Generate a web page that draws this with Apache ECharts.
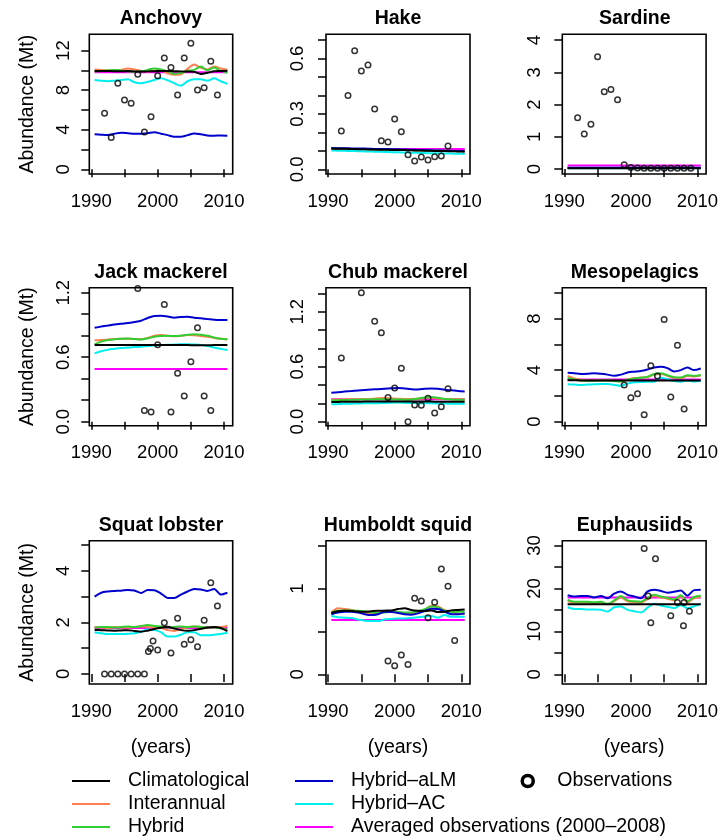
<!DOCTYPE html>
<html>
<head>
<meta charset="utf-8">
<script src="https://cdn.jsdelivr.net/npm/echarts@6/dist/echarts.min.js"></script>
<style>
  html, body { margin: 0; padding: 0; background: #ffffff; }
  #chart { width: 721px; height: 840px; }
</style>
</head>
<body>
<div id="chart"></div>
<script>
// ---- Model time axis (mid-year values) ----
const modelYears = [1990.5, 1991.5, 1992.5, 1993.5, 1994.5, 1995.5, 1996.5, 1997.5, 1998.5, 1999.5,
                    2000.5, 2001.5, 2002.5, 2003.5, 2004.5, 2005.5, 2006.5, 2007.5, 2008.5, 2009.5, 2010.5];

// ---- X tick positions and labels (shared by all panels) ----
const xTickYears = [1990, 1995, 2000, 2005, 2010];
const xLabelYears = [1990, 2000, 2010];

// ---- Anchovy (Mt) ----
const anchovyClim   = [9.94, 9.94, 9.93, 9.92, 9.92, 9.93, 9.90, 9.88, 9.90, 9.92, 9.94, 9.93, 9.92, 9.90, 9.88, 9.85, 9.64, 9.75, 9.92, 9.94, 9.96];
const anchovyInter  = [10.10, 10.05, 9.98, 10.00, 10.05, 10.20, 10.10, 9.95, 9.90, 9.95, 10.00, 9.70, 9.55, 9.60, 10.15, 10.60, 10.25, 10.10, 10.40, 10.20, 10.05];
const anchovyHybrid = [9.88, 9.95, 10.00, 10.05, 9.98, 9.90, 9.85, 9.90, 10.05, 10.20, 10.10, 9.90, 9.64, 9.75, 9.95, 10.05, 10.40, 10.00, 10.30, 9.95, 9.77];
const anchovyALM    = [3.54, 3.50, 3.47, 3.60, 3.70, 3.65, 3.58, 3.60, 3.65, 3.74, 3.60, 3.45, 3.30, 3.30, 3.45, 3.62, 3.55, 3.42, 3.40, 3.42, 3.40];
const anchovyAC     = [9.03, 8.95, 8.90, 8.95, 9.03, 9.10, 8.80, 8.70, 8.85, 9.03, 9.20, 9.00, 8.70, 8.45, 8.90, 9.10, 9.10, 8.95, 9.20, 8.90, 8.63];
const anchovyObsYears = [1992, 1993, 1994, 1995, 1996, 1997, 1998, 1999, 2000, 2001, 2002, 2003, 2004, 2005, 2006, 2007, 2008, 2009];
const anchovyObs      = [5.66, 3.20, 8.70, 7.00, 6.67, 9.60, 3.78, 5.30, 9.46, 11.25, 10.30, 7.50, 11.25, 12.74, 8.02, 8.25, 10.92, 7.50];

// ---- Hake (Mt) ----
const hakeClim   = [0.112, 0.111, 0.111, 0.110, 0.109, 0.108, 0.107, 0.106, 0.106, 0.105, 0.105, 0.104, 0.103, 0.102, 0.101, 0.100, 0.099, 0.099, 0.098, 0.097, 0.096];
const hakeInter  = [0.113, 0.112, 0.112, 0.111, 0.110, 0.110, 0.109, 0.108, 0.108, 0.107, 0.106, 0.105, 0.104, 0.103, 0.103, 0.102, 0.101, 0.100, 0.100, 0.099, 0.098];
const hakeHybrid = [0.112, 0.112, 0.111, 0.110, 0.110, 0.109, 0.108, 0.108, 0.107, 0.106, 0.105, 0.104, 0.104, 0.103, 0.102, 0.101, 0.100, 0.100, 0.099, 0.098, 0.097];
const hakeALM    = [0.115, 0.114, 0.114, 0.113, 0.112, 0.112, 0.111, 0.110, 0.110, 0.109, 0.108, 0.107, 0.106, 0.105, 0.104, 0.103, 0.102, 0.101, 0.100, 0.099, 0.098];
const hakeAC     = [0.102, 0.101, 0.100, 0.099, 0.098, 0.097, 0.096, 0.095, 0.094, 0.093, 0.092, 0.091, 0.090, 0.089, 0.088, 0.087, 0.087, 0.086, 0.085, 0.084, 0.083];
const hakeObsYears = [1992, 1993, 1994, 1995, 1996, 1997, 1998, 1999, 2000, 2001, 2002, 2003, 2004, 2005, 2006, 2007, 2008];
const hakeObs      = [0.207, 0.400, 0.642, 0.532, 0.565, 0.327, 0.154, 0.148, 0.273, 0.204, 0.079, 0.045, 0.066, 0.050, 0.068, 0.072, 0.126];

// ---- Sardine (Mt) ----
const sardineClim   = [0.02, 0.02, 0.02, 0.02, 0.02, 0.02, 0.02, 0.02, 0.02, 0.02, 0.02, 0.02, 0.02, 0.02, 0.02, 0.02, 0.02, 0.02, 0.02, 0.02, 0.02];
const sardineInter  = [0.03, 0.03, 0.03, 0.03, 0.03, 0.03, 0.03, 0.03, 0.03, 0.03, 0.03, 0.03, 0.03, 0.03, 0.03, 0.03, 0.03, 0.03, 0.03, 0.03, 0.03];
const sardineHybrid = [0.03, 0.03, 0.03, 0.03, 0.03, 0.03, 0.03, 0.03, 0.03, 0.03, 0.03, 0.03, 0.03, 0.03, 0.03, 0.03, 0.03, 0.03, 0.03, 0.03, 0.03];
const sardineALM    = [0.04, 0.04, 0.04, 0.04, 0.04, 0.04, 0.04, 0.04, 0.04, 0.04, 0.04, 0.04, 0.04, 0.04, 0.04, 0.04, 0.04, 0.04, 0.04, 0.04, 0.04];
const sardineAC     = [0.02, 0.02, 0.02, 0.02, 0.02, 0.02, 0.02, 0.02, 0.02, 0.02, 0.02, 0.02, 0.02, 0.02, 0.02, 0.02, 0.02, 0.02, 0.02, 0.02, 0.02];
const sardineObsYears = [1992, 1993, 1994, 1995, 1996, 1997, 1998, 1999, 2000, 2001, 2002, 2003, 2004, 2005, 2006, 2007, 2008, 2009];
const sardineObs      = [1.59, 1.085, 1.385, 3.48, 2.40, 2.47, 2.15, 0.134, 0.05, 0.03, 0.02, 0.02, 0.02, 0.02, 0.02, 0.02, 0.02, 0.02];

// ---- Jack mackerel (Mt) ----
const jackClim   = [0.713, 0.714, 0.714, 0.714, 0.715, 0.715, 0.715, 0.715, 0.714, 0.714, 0.714, 0.713, 0.713, 0.713, 0.713, 0.712, 0.712, 0.712, 0.713, 0.713, 0.713];
const jackInter  = [0.757, 0.760, 0.765, 0.770, 0.772, 0.772, 0.770, 0.768, 0.780, 0.800, 0.806, 0.800, 0.795, 0.800, 0.806, 0.805, 0.798, 0.790, 0.780, 0.772, 0.766];
const jackHybrid = [0.720, 0.745, 0.760, 0.768, 0.772, 0.774, 0.770, 0.766, 0.775, 0.790, 0.797, 0.800, 0.797, 0.800, 0.810, 0.815, 0.810, 0.800, 0.785, 0.772, 0.768];
const jackALM    = [0.874, 0.885, 0.895, 0.905, 0.912, 0.918, 0.928, 0.940, 0.965, 0.984, 0.986, 0.980, 0.968, 0.975, 0.977, 0.968, 0.962, 0.955, 0.948, 0.946, 0.946];
const jackAC     = [0.636, 0.655, 0.670, 0.678, 0.685, 0.690, 0.695, 0.698, 0.705, 0.710, 0.713, 0.716, 0.718, 0.720, 0.720, 0.718, 0.715, 0.705, 0.690, 0.678, 0.667];
const jackObsYears = [1997, 1998, 1999, 2000, 2001, 2002, 2003, 2004, 2005, 2006, 2007, 2008];
const jackObs      = [1.24, 0.105, 0.09, 0.716, 1.09, 0.09, 0.45, 0.239, 0.558, 0.874, 0.239, 0.105];

// ---- Chub mackerel (Mt) ----
const chubClim   = [0.215, 0.216, 0.217, 0.218, 0.218, 0.219, 0.219, 0.220, 0.220, 0.220, 0.220, 0.220, 0.220, 0.219, 0.219, 0.219, 0.218, 0.218, 0.218, 0.218, 0.218];
const chubInter  = [0.240, 0.242, 0.244, 0.245, 0.246, 0.247, 0.248, 0.255, 0.260, 0.255, 0.250, 0.248, 0.247, 0.250, 0.255, 0.260, 0.252, 0.248, 0.246, 0.244, 0.243];
const chubHybrid = [0.232, 0.235, 0.237, 0.238, 0.240, 0.242, 0.243, 0.245, 0.244, 0.243, 0.242, 0.240, 0.242, 0.252, 0.265, 0.270, 0.260, 0.248, 0.243, 0.240, 0.238];
const chubALM    = [0.316, 0.322, 0.328, 0.334, 0.340, 0.345, 0.350, 0.355, 0.360, 0.364, 0.368, 0.362, 0.355, 0.352, 0.358, 0.362, 0.358, 0.348, 0.342, 0.335, 0.330];
const chubAC     = [0.190, 0.192, 0.195, 0.196, 0.198, 0.200, 0.200, 0.202, 0.205, 0.207, 0.208, 0.206, 0.204, 0.202, 0.200, 0.200, 0.198, 0.197, 0.196, 0.195, 0.195];
const chubObsYears = [1992, 1995, 1997, 1998, 1999, 2000, 2001, 2002, 2003, 2004, 2005, 2006, 2007, 2008];
const chubObs      = [0.695, 1.407, 1.095, 0.971, 0.265, 0.367, 0.582, 0.0, 0.182, 0.178, 0.255, 0.095, 0.164, 0.36];

// ---- Mesopelagics (Mt) ----
const mesoClim   = [3.22, 3.21, 3.20, 3.20, 3.20, 3.20, 3.20, 3.20, 3.20, 3.20, 3.20, 3.20, 3.20, 3.20, 3.20, 3.20, 3.20, 3.20, 3.20, 3.20, 3.20];
const mesoInter  = [3.54, 3.35, 3.25, 3.22, 3.20, 3.22, 3.22, 3.18, 3.15, 3.28, 3.38, 3.42, 3.45, 3.65, 3.70, 3.55, 3.40, 3.38, 3.55, 3.50, 3.58];
const mesoHybrid = [3.40, 3.28, 3.20, 3.18, 3.18, 3.20, 3.20, 3.15, 3.12, 3.25, 3.36, 3.40, 3.48, 3.70, 3.75, 3.60, 3.45, 3.42, 3.60, 3.55, 3.62];
const mesoALM    = [3.80, 3.75, 3.70, 3.72, 3.76, 3.72, 3.65, 3.56, 3.65, 3.82, 3.88, 3.93, 4.05, 4.20, 4.26, 4.15, 3.90, 4.00, 4.20, 4.00, 4.13];
const mesoAC     = [2.90, 2.88, 2.85, 2.88, 2.90, 2.92, 2.92, 2.85, 2.79, 2.95, 3.05, 3.08, 3.10, 3.10, 3.40, 3.30, 3.15, 3.10, 3.20, 3.12, 3.15];
const mesoObsYears = [1999, 2000, 2001, 2002, 2003, 2004, 2005, 2006, 2007, 2008];
const mesoObs      = [2.84, 1.86, 2.17, 0.54, 4.34, 3.54, 7.93, 1.91, 5.92, 0.98];

// ---- Squat lobster (Mt) ----
const squatClim   = [1.71, 1.70, 1.69, 1.68, 1.69, 1.70, 1.67, 1.64, 1.68, 1.74, 1.79, 1.83, 1.76, 1.70, 1.68, 1.70, 1.75, 1.80, 1.82, 1.78, 1.66];
const squatInter  = [1.82, 1.80, 1.78, 1.82, 1.80, 1.80, 1.82, 1.84, 1.82, 1.80, 1.78, 1.70, 1.67, 1.74, 1.80, 1.84, 1.82, 1.80, 1.80, 1.82, 1.86];
const squatHybrid = [1.80, 1.82, 1.82, 1.80, 1.82, 1.84, 1.82, 1.86, 1.90, 1.86, 1.84, 1.80, 1.82, 1.84, 1.82, 1.84, 1.82, 1.80, 1.80, 1.77, 1.72];
const squatALM    = [3.00, 3.15, 3.20, 3.22, 3.23, 3.26, 3.24, 3.14, 3.26, 3.25, 3.12, 2.95, 2.95, 3.08, 3.20, 3.30, 3.28, 3.22, 3.30, 3.08, 3.15];
const squatAC     = [1.62, 1.58, 1.55, 1.55, 1.55, 1.56, 1.58, 1.64, 1.72, 1.70, 1.62, 1.45, 1.45, 1.52, 1.62, 1.62, 1.50, 1.50, 1.52, 1.55, 1.60];
const squatObsYears = [1992, 1993, 1994, 1995, 1996, 1997, 1998, 1998.6, 1998.9, 1999.3, 2000, 2001, 2002, 2003, 2004, 2005, 2006, 2007, 2008, 2009];
const squatObs      = [0, 0, 0, 0, 0, 0, 0, 0.87, 0.99, 1.28, 0.93, 1.99, 0.81, 2.16, 1.15, 1.33, 1.06, 2.08, 3.54, 2.64];

// ---- Humboldt squid (Mt) ----
const squidClim   = [0.715, 0.735, 0.742, 0.738, 0.732, 0.730, 0.735, 0.740, 0.742, 0.745, 0.760, 0.770, 0.750, 0.740, 0.735, 0.745, 0.725, 0.730, 0.745, 0.750, 0.755];
const squidInter  = [0.720, 0.770, 0.760, 0.750, 0.730, 0.720, 0.700, 0.710, 0.725, 0.725, 0.720, 0.715, 0.710, 0.720, 0.750, 0.800, 0.790, 0.750, 0.720, 0.710, 0.700];
const squidHybrid = [0.720, 0.740, 0.745, 0.745, 0.740, 0.735, 0.720, 0.715, 0.720, 0.735, 0.725, 0.720, 0.720, 0.735, 0.760, 0.790, 0.780, 0.740, 0.720, 0.730, 0.730];
const squidALM    = [0.700, 0.720, 0.730, 0.730, 0.720, 0.700, 0.690, 0.700, 0.730, 0.725, 0.715, 0.700, 0.695, 0.710, 0.740, 0.765, 0.760, 0.730, 0.700, 0.700, 0.710];
const squidAC     = [0.680, 0.665, 0.660, 0.655, 0.640, 0.625, 0.620, 0.620, 0.640, 0.645, 0.650, 0.650, 0.655, 0.665, 0.675, 0.680, 0.660, 0.690, 0.670, 0.670, 0.670];
const squidObsYears = [1999, 2000, 2001, 2002, 2003, 2004, 2005, 2006, 2007, 2008, 2009];
const squidObs      = [0.155, 0.10, 0.225, 0.113, 0.886, 0.855, 0.66, 0.84, 1.228, 1.026, 0.393];

// ---- Euphausiids (Mt) ----
const euphClim   = [16.3, 16.3, 16.3, 16.3, 16.3, 16.3, 16.3, 16.3, 16.3, 16.3, 16.3, 16.3, 16.3, 16.3, 16.3, 16.3, 16.3, 16.3, 16.3, 16.3, 16.3];
const euphInter  = [17.0, 16.7, 16.7, 16.7, 16.6, 16.7, 16.3, 17.0, 17.9, 17.0, 16.8, 16.7, 17.5, 18.2, 17.9, 17.6, 17.2, 18.1, 16.8, 17.7, 18.0];
const euphHybrid = [17.3, 16.9, 16.9, 16.9, 16.8, 16.9, 16.4, 17.2, 18.2, 17.2, 17.0, 16.9, 17.8, 18.5, 18.1, 17.8, 17.4, 18.4, 17.0, 18.0, 18.3];
const euphALM    = [18.4, 18.1, 18.2, 18.2, 17.9, 18.2, 17.7, 18.8, 19.3, 18.5, 18.1, 17.7, 19.3, 19.7, 19.4, 19.0, 19.2, 19.5, 18.3, 19.6, 19.7];
const euphAC     = [15.6, 15.2, 15.2, 15.1, 15.1, 15.0, 14.6, 15.6, 15.8, 15.0, 14.7, 14.4, 15.5, 16.4, 16.0, 15.7, 15.4, 16.1, 15.4, 15.8, 16.4];
const euphObsYears = [2002, 2002.6, 2003, 2003.7, 2006, 2007, 2008, 2007.9, 2008.8];
const euphObs      = [29.3, 18.2, 12.0, 26.9, 13.6, 16.7, 16.7, 11.3, 14.7];

// ---- Averaged observations 2000-2008, in panel order ----
const avgObs = [9.80, 0.110, 0.11, 0.49, 0.245, 3.28, 1.78, 0.634, 17.9];

// ---- Y tick values and labelled ticks, per panel ----
const anchovyTicks = [0, 2, 4, 6, 8, 10, 12],               anchovyLabels = [0, 4, 8, 12];
const hakeTicks    = [0, 0.1, 0.2, 0.3, 0.4, 0.5, 0.6, 0.7], hakeLabels = [0, 0.3, 0.6];
const sardineTicks = [0, 1, 2, 3, 4],                        sardineLabels = [0, 1, 2, 3, 4];
const jackTicks    = [0, 0.2, 0.4, 0.6, 0.8, 1.0, 1.2],      jackLabels = [0, 0.6, 1.2];
const chubTicks    = [0, 0.2, 0.4, 0.6, 0.8, 1.0, 1.2, 1.4], chubLabels = [0, 0.6, 1.2];
const mesoTicks    = [0, 2, 4, 6, 8, 10],                    mesoLabels = [0, 4, 8];
const squatTicks   = [0, 1, 2, 3, 4, 5],                     squatLabels = [0, 2, 4];
const squidTicks   = [0, 0.5, 1, 1.5],                       squidLabels = [0, 1];
const euphTicks    = [0, 5, 10, 15, 20, 25, 30],             euphLabels = [0, 10, 20, 30];

// ---- Panel table ----
const panels = [
  { title: 'Anchovy',        clim: anchovyClim, inter: anchovyInter, hybrid: anchovyHybrid, alm: anchovyALM, ac: anchovyAC, obsX: anchovyObsYears, obsY: anchovyObs, yMin: -0.48,  yMax: 13.65, ticks: anchovyTicks, labels: anchovyLabels, dec: 0 },
  { title: 'Hake',           clim: hakeClim,    inter: hakeInter,    hybrid: hakeHybrid,    alm: hakeALM,    ac: hakeAC,    obsX: hakeObsYears,    obsY: hakeObs,    yMin: -0.0254, yMax: 0.731, ticks: hakeTicks,    labels: hakeLabels,    dec: 1 },
  { title: 'Sardine',        clim: sardineClim, inter: sardineInter, hybrid: sardineHybrid, alm: sardineALM, ac: sardineAC, obsX: sardineObsYears, obsY: sardineObs, yMin: -0.155, yMax: 4.18,  ticks: sardineTicks, labels: sardineLabels, dec: 0 },
  { title: 'Jack mackerel',  clim: jackClim,    inter: jackInter,    hybrid: jackHybrid,    alm: jackALM,    ac: jackAC,    obsX: jackObsYears,    obsY: jackObs,    yMin: -0.037, yMax: 1.247, ticks: jackTicks,    labels: jackLabels,    dec: 1 },
  { title: 'Chub mackerel',  clim: chubClim,    inter: chubInter,    hybrid: chubHybrid,    alm: chubALM,    ac: chubAC,    obsX: chubObsYears,    obsY: chubObs,    yMin: -0.044, yMax: 1.462, ticks: chubTicks,    labels: chubLabels,    dec: 1 },
  { title: 'Mesopelagics',   clim: mesoClim,    inter: mesoInter,    hybrid: mesoHybrid,    alm: mesoALM,    ac: mesoAC,    obsX: mesoObsYears,    obsY: mesoObs,    yMin: -0.31,  yMax: 10.39, ticks: mesoTicks,    labels: mesoLabels,    dec: 0 },
  { title: 'Squat lobster',  clim: squatClim,   inter: squatInter,   hybrid: squatHybrid,   alm: squatALM,   ac: squatAC,   obsX: squatObsYears,   obsY: squatObs,   yMin: -0.39,  yMax: 5.17,  ticks: squatTicks,   labels: squatLabels,   dec: 0 },
  { title: 'Humboldt squid', clim: squidClim,   inter: squidInter,   hybrid: squidHybrid,   alm: squidALM,   ac: squidAC,   obsX: squidObsYears,   obsY: squidObs,   yMin: -0.113, yMax: 1.557, ticks: squidTicks,   labels: squidLabels,   dec: 0 },
  { title: 'Euphausiids',    clim: euphClim,    inter: euphInter,    hybrid: euphHybrid,    alm: euphALM,    ac: euphAC,    obsX: euphObsYears,    obsY: euphObs,    yMin: -2.26,  yMax: 31.1,  ticks: euphTicks,    labels: euphLabels,    dec: 0 }
];

// ---- Layout of the 3x3 panel boxes (pixels) ----
const colLeft   = [89.3, 326, 562.3];
const colWidth  = [143.4, 144, 145];
const colLabelMargin = [16, 19, 18];
const rowTop    = [34.3, 287.7, 540.7];
const rowHeight = [139.7, 138, 143.3];
const X_MIN = 1989.7, X_MAX = 2011.3;

const FONT = '"Liberation Sans", Arial, Helvetica, sans-serif';

// Series styles, in drawing order (first drawn underneath)
const lineStyles = [
  { key: 'avg',    name: 'Averaged observations (2000\u20132008)', color: '#FF00FF' },
  { key: 'ac',     name: 'Hybrid\u2013AC',  color: '#00EEEE' },
  { key: 'inter',  name: 'Interannual',     color: '#FF7F50' },
  { key: 'hybrid', name: 'Hybrid',          color: '#32CD32' },
  { key: 'alm',    name: 'Hybrid\u2013aLM', color: '#0000CD' },
  { key: 'clim',   name: 'Climatological',  color: '#000000' }
];

const grids = [], xAxes = [], yAxes = [], series = [], titles = [];

panels.forEach((p, i) => {
  const row = Math.floor(i / 3), col = i % 3;
  const left = colLeft[col], top = rowTop[row], w = colWidth[col], h = rowHeight[row];

  grids.push({ left: left, top: top, width: w, height: h, show: true,
               borderColor: '#000', borderWidth: 1.6, backgroundColor: 'transparent', containLabel: false });

  titles.push({ text: p.title, left: left + w / 2, top: top - 25.5, textAlign: 'center', padding: 0,
                textStyle: { fontFamily: FONT, fontSize: 19.5, fontWeight: 'bold', color: '#000' } });

  xAxes.push({
    gridIndex: i, type: 'value', min: X_MIN, max: X_MAX,
    axisLine: { show: false },
    axisTick: { show: true, length: 8, lineStyle: { color: '#000', width: 1.5 }, customValues: xTickYears },
    axisLabel: { show: true, customValues: xLabelYears, margin: 18, fontSize: 18.5, fontFamily: FONT, color: '#000',
                 formatter: (v) => String(Math.round(v)) },
    splitLine: { show: false },
    name: row === 2 ? '(years)' : '', nameLocation: 'middle', nameGap: 54,
    nameTextStyle: { fontFamily: FONT, fontSize: 19.5, color: '#000' }
  });

  yAxes.push({
    gridIndex: i, type: 'value', min: p.yMin, max: p.yMax,
    axisLine: { show: false },
    axisTick: { show: true, length: 8, lineStyle: { color: '#000', width: 1.5 }, customValues: p.ticks },
    axisLabel: { show: true, customValues: p.labels, rotate: 90, margin: colLabelMargin[col], fontSize: 18.5,
                 fontFamily: FONT, color: '#000', formatter: (v) => Number(v).toFixed(p.dec) },
    splitLine: { show: false },
    name: col === 0 ? 'Abundance (Mt)' : '', nameLocation: 'middle', nameGap: 52,
    nameTextStyle: { fontFamily: FONT, fontSize: 19.5, color: '#000' }
  });

  lineStyles.forEach((s) => {
    let data;
    if (s.key === 'avg') {
      data = [[modelYears[0], avgObs[i]], [modelYears[modelYears.length - 1], avgObs[i]]];
    } else {
      data = modelYears.map((yr, k) => [yr, p[s.key][k]]);
    }
    series.push({
      type: 'line', name: s.name, xAxisIndex: i, yAxisIndex: i, data: data,
      symbol: 'none', smooth: s.key === 'avg' ? false : 0.3,
      lineStyle: { color: s.color, width: 2 }, itemStyle: { color: s.color },
      z: 2, silent: true
    });
  });

  series.push({
    type: 'scatter', name: 'Observations', xAxisIndex: i, yAxisIndex: i,
    data: p.obsX.map((yr, k) => [yr, p.obsY[k]]),
    symbol: 'circle', symbolSize: 5.5,
    itemStyle: { color: 'rgba(255,255,255,0)', borderColor: '#000', borderWidth: 1.5 },
    z: 3, silent: true
  });
});

const legendText = { fontFamily: FONT, fontSize: 19.5, color: '#000', lineHeight: 23 };
const legendBase = { top: 769.5, height: 70, padding: 0, orient: 'vertical', itemGap: 0, selectedMode: false };

const legends = [
  Object.assign({}, legendBase, { left: 72, itemWidth: 38, itemHeight: 2, icon: 'rect',
    textStyle: Object.assign({ padding: [0, 0, 0, 13] }, legendText),
    data: ['Climatological', 'Interannual', 'Hybrid'] }),
  Object.assign({}, legendBase, { left: 295, itemWidth: 38, itemHeight: 2, icon: 'rect',
    textStyle: Object.assign({ padding: [0, 0, 0, 13] }, legendText),
    data: ['Hybrid\u2013aLM', 'Hybrid\u2013AC', 'Averaged observations (2000\u20132008)'] }),
  Object.assign({}, legendBase, { left: 520.5, itemWidth: 11, itemHeight: 11,
    textStyle: Object.assign({ padding: [0, 0, 0, 19] }, legendText),
    data: [{ name: 'Observations', icon: 'circle',
             itemStyle: { color: '#ffffff', borderColor: '#000000', borderWidth: 3.5, opacity: 1 } }] })
];

const chart = echarts.init(document.getElementById('chart'), null, { renderer: 'canvas' });
chart.setOption({
  animation: false,
  backgroundColor: '#ffffff',
  title: titles,
  grid: grids,
  xAxis: xAxes,
  yAxis: yAxes,
  legend: legends,
  series: series
});
</script>
</body>
</html>
